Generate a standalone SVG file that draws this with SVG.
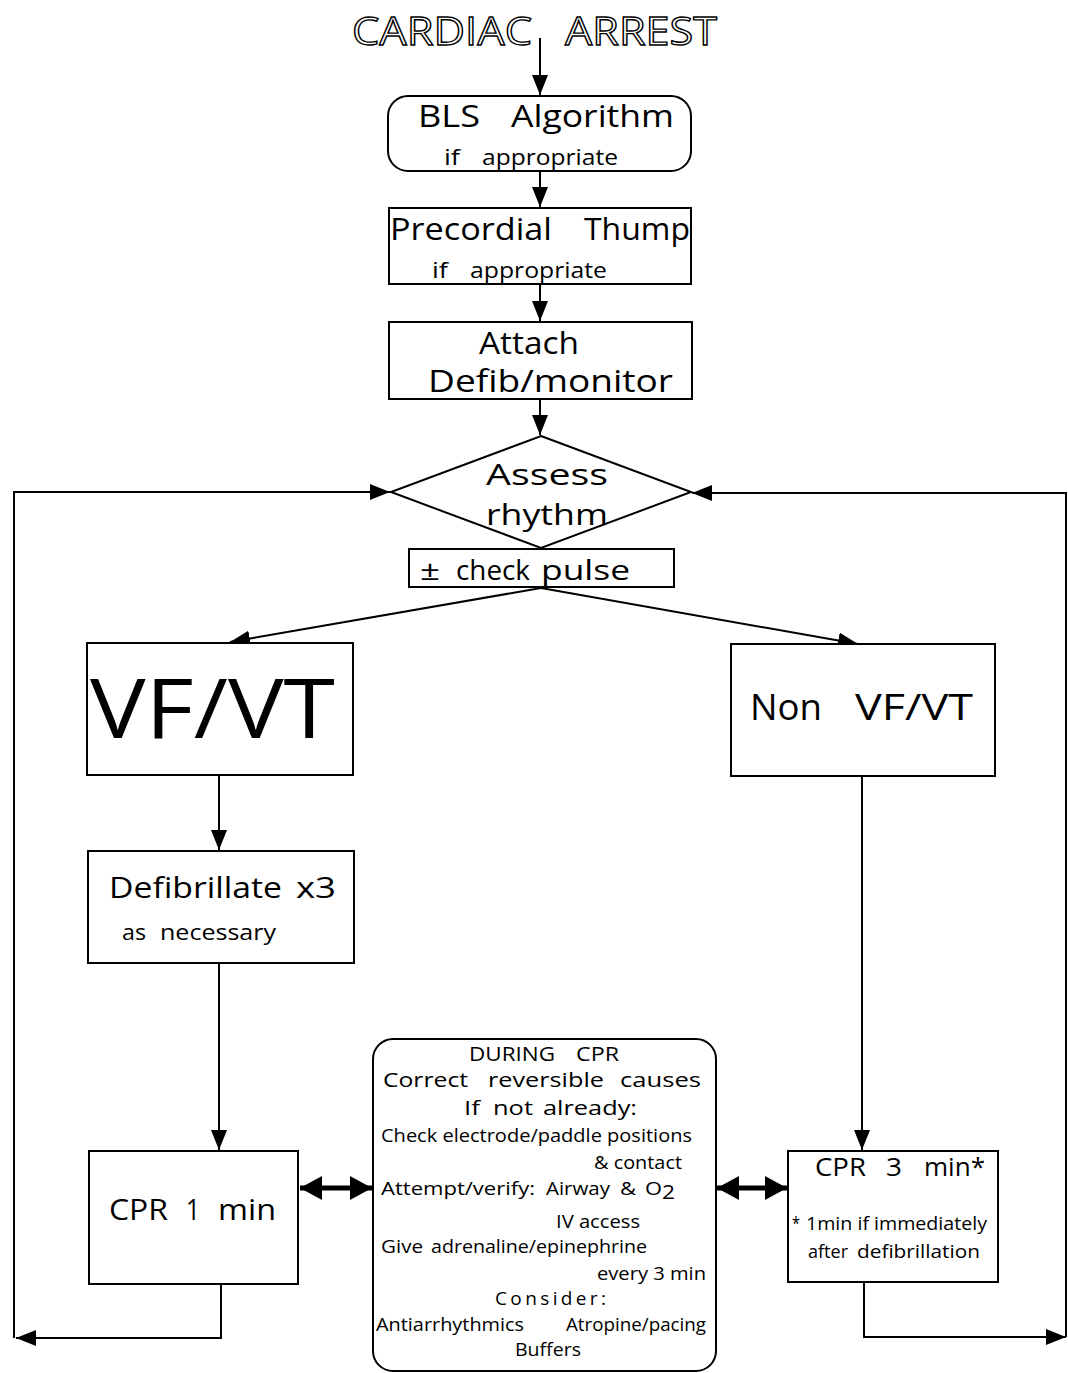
<svg xmlns="http://www.w3.org/2000/svg" width="1068" height="1373" viewBox="0 0 1068 1373">
<defs>
<marker id="ah" markerUnits="userSpaceOnUse" markerWidth="22" markerHeight="16" refX="20" refY="8" orient="auto">
<path d="M0,0 L20,8 L0,16 Z" fill="#000"/>
</marker>
<marker id="bh" markerUnits="userSpaceOnUse" markerWidth="24" markerHeight="24" refX="22" refY="12" orient="auto">
<path d="M0,0 L22,12 L0,24 Z" fill="#000"/>
</marker>
<marker id="bt" markerUnits="userSpaceOnUse" markerWidth="24" markerHeight="24" refX="0" refY="12" orient="auto">
<path d="M22,0 L0,12 L22,24 Z" fill="#000"/>
</marker>
</defs>
<style>
.box{fill:#fff;stroke:#000;stroke-width:2}
.ln{fill:none;stroke:#000;stroke-width:2}
.t{font-family:"Open Sans","Liberation Sans",sans-serif;fill:#000}
.title{font-family:"Open Sans","Liberation Sans",sans-serif;fill:#fff;stroke:#000;stroke-width:1.3;font-size:38px}
</style>
<rect width="1068" height="1373" fill="#fff"/>

<g id="connectors">
<line class="ln" x1="540" y1="38" x2="540" y2="95" marker-end="url(#ah)"/>
<line class="ln" x1="540" y1="171" x2="540" y2="207" marker-end="url(#ah)"/>
<line class="ln" x1="540" y1="284" x2="540" y2="321" marker-end="url(#ah)"/>
<line class="ln" x1="540" y1="399" x2="540" y2="435" marker-end="url(#ah)"/>
<line class="ln" x1="541" y1="588" x2="230" y2="642" marker-end="url(#ah)"/>
<line class="ln" x1="541" y1="588" x2="858" y2="644" marker-end="url(#ah)"/>
<line class="ln" x1="219" y1="775" x2="219" y2="850" marker-end="url(#ah)"/>
<line class="ln" x1="219" y1="963" x2="219" y2="1150" marker-end="url(#ah)"/>
<line class="ln" x1="862" y1="776" x2="862" y2="1150" marker-end="url(#ah)"/>
<polyline class="ln" points="221,1284 221,1338 16,1338" marker-end="url(#ah)"/>
<polyline class="ln" points="14,1338 14,492 390,492" marker-end="url(#ah)"/>
<polyline class="ln" points="864,1283 864,1337 1066,1337" marker-end="url(#ah)"/>
<polyline class="ln" points="1066,1337 1066,493 692,493" marker-end="url(#ah)"/>
<line x1="300" y1="1188" x2="372" y2="1188" stroke="#000" stroke-width="5" marker-start="url(#bt)" marker-end="url(#bh)"/>
<line x1="717" y1="1188" x2="787" y2="1188" stroke="#000" stroke-width="5" marker-start="url(#bt)" marker-end="url(#bh)"/>
</g>

<g id="title">
<text class="title" x="352" y="45" textLength="180" lengthAdjust="spacingAndGlyphs">CARDIAC</text>
<text class="title" x="565" y="45" textLength="152" lengthAdjust="spacingAndGlyphs">ARREST</text>
</g>

<g id="bls">
<rect class="box" x="388" y="96" width="303" height="75" rx="20"/>
<text class="t" y="127" font-size="31"><tspan x="418" textLength="62" lengthAdjust="spacingAndGlyphs">BLS</tspan> <tspan x="511" textLength="163" lengthAdjust="spacingAndGlyphs">Algorithm</tspan></text>
<text class="t" y="165" font-size="21"><tspan x="444" textLength="16" lengthAdjust="spacingAndGlyphs">if</tspan> <tspan x="482" textLength="136" lengthAdjust="spacingAndGlyphs">appropriate</tspan></text>
</g>

<g id="thump">
<rect class="box" x="389" y="208" width="302" height="76"/>
<text class="t" y="240" font-size="31"><tspan x="390" textLength="162" lengthAdjust="spacingAndGlyphs">Precordial</tspan> <tspan x="584" textLength="106" lengthAdjust="spacingAndGlyphs">Thump</tspan></text>
<text class="t" y="278" font-size="21"><tspan x="432" textLength="16" lengthAdjust="spacingAndGlyphs">if</tspan> <tspan x="470" textLength="137" lengthAdjust="spacingAndGlyphs">appropriate</tspan></text>
</g>

<g id="attach">
<rect class="box" x="389" y="322" width="303" height="77"/>
<text class="t" x="479" y="354" font-size="31" textLength="100" lengthAdjust="spacingAndGlyphs">Attach</text>
<text class="t" x="428" y="392" font-size="31" textLength="245" lengthAdjust="spacingAndGlyphs">Defib/monitor</text>
</g>

<g id="assess">
<polygon class="box" points="541,436 691,492 541,548 391,492"/>
<text class="t" x="486" y="485" font-size="30" textLength="122" lengthAdjust="spacingAndGlyphs">Assess</text>
<text class="t" x="486" y="525" font-size="30" textLength="122" lengthAdjust="spacingAndGlyphs">rhythm</text>
</g>

<g id="pulse">
<rect class="box" x="409" y="549" width="265" height="38"/>
<text class="t" y="580" font-size="28"><tspan x="420" textLength="20" lengthAdjust="spacingAndGlyphs">±</tspan> <tspan x="456" textLength="74" lengthAdjust="spacingAndGlyphs">check</tspan> <tspan x="541" textLength="89" lengthAdjust="spacingAndGlyphs">pulse</tspan></text>
</g>

<g id="vfvt">
<rect class="box" x="87" y="643" width="266" height="132"/>
<text class="t" x="90" y="738" font-size="82" textLength="245" lengthAdjust="spacingAndGlyphs">VF/VT</text>
</g>

<g id="nonvfvt">
<rect class="box" x="731" y="644" width="264" height="132"/>
<text class="t" y="720" font-size="36"><tspan x="750" textLength="72" lengthAdjust="spacingAndGlyphs">Non</tspan> <tspan x="855" textLength="118" lengthAdjust="spacingAndGlyphs">VF/VT</tspan></text>
</g>

<g id="defib">
<rect class="box" x="88" y="851" width="266" height="112"/>
<text class="t" y="898" font-size="29"><tspan x="109" textLength="173" lengthAdjust="spacingAndGlyphs">Defibrillate</tspan> <tspan x="296" textLength="40" lengthAdjust="spacingAndGlyphs">x3</tspan></text>
<text class="t" y="940" font-size="21"><tspan x="122" textLength="24" lengthAdjust="spacingAndGlyphs">as</tspan> <tspan x="160" textLength="116" lengthAdjust="spacingAndGlyphs">necessary</tspan></text>
</g>

<g id="cpr1">
<rect class="box" x="89" y="1151" width="209" height="133"/>
<text class="t" y="1220" font-size="30"><tspan x="109" textLength="59" lengthAdjust="spacingAndGlyphs">CPR</tspan> <tspan x="186" textLength="14" lengthAdjust="spacingAndGlyphs">1</tspan> <tspan x="218" textLength="58" lengthAdjust="spacingAndGlyphs">min</tspan></text>
</g>

<g id="cpr3">
<rect class="box" x="788" y="1151" width="210" height="131"/>
<text class="t" y="1176" font-size="26"><tspan x="815" textLength="51" lengthAdjust="spacingAndGlyphs">CPR</tspan> <tspan x="886" textLength="16" lengthAdjust="spacingAndGlyphs">3</tspan> <tspan x="924" textLength="61" lengthAdjust="spacingAndGlyphs">min*</tspan></text>
<text class="t" y="1230" font-size="19"><tspan x="792" textLength="8" lengthAdjust="spacingAndGlyphs">*</tspan> <tspan x="806" textLength="181" lengthAdjust="spacingAndGlyphs">1min if immediately</tspan></text>
<text class="t" y="1258" font-size="19"><tspan x="808" textLength="40" lengthAdjust="spacingAndGlyphs">after</tspan> <tspan x="857" textLength="123" lengthAdjust="spacingAndGlyphs">defibrillation</tspan></text>
</g>

<g id="during">
<rect class="box" x="373" y="1039" width="343" height="332" rx="20"/>
<text class="t" y="1061" font-size="20"><tspan x="469" textLength="86" lengthAdjust="spacingAndGlyphs">DURING</tspan> <tspan x="576" textLength="43" lengthAdjust="spacingAndGlyphs">CPR</tspan></text>
<text class="t" y="1087" font-size="20"><tspan x="383" textLength="85" lengthAdjust="spacingAndGlyphs">Correct</tspan> <tspan x="488" textLength="116" lengthAdjust="spacingAndGlyphs">reversible</tspan> <tspan x="620" textLength="81" lengthAdjust="spacingAndGlyphs">causes</tspan></text>
<text class="t" y="1115" font-size="20"><tspan x="464" textLength="16" lengthAdjust="spacingAndGlyphs">If</tspan> <tspan x="493" textLength="40" lengthAdjust="spacingAndGlyphs">not</tspan> <tspan x="543" textLength="94" lengthAdjust="spacingAndGlyphs">already:</tspan></text>
<text class="t" x="381" y="1142" font-size="18" textLength="311" lengthAdjust="spacingAndGlyphs">Check electrode/paddle positions</text>
<text class="t" x="594" y="1169" font-size="18" textLength="88" lengthAdjust="spacingAndGlyphs">&amp; contact</text>
<text class="t" y="1195" font-size="19"><tspan x="381" textLength="154" lengthAdjust="spacingAndGlyphs">Attempt/verify:</tspan> <tspan x="546" textLength="64" lengthAdjust="spacingAndGlyphs">Airway</tspan> <tspan x="620" textLength="16" lengthAdjust="spacingAndGlyphs">&amp;</tspan> <tspan x="645" textLength="17" lengthAdjust="spacingAndGlyphs">O</tspan><tspan x="662" y="1199" font-size="20" textLength="13" lengthAdjust="spacingAndGlyphs">2</tspan></text>
<text class="t" x="556" y="1228" font-size="18" textLength="84" lengthAdjust="spacingAndGlyphs">IV access</text>
<text class="t" y="1253" font-size="18"><tspan x="381" textLength="42" lengthAdjust="spacingAndGlyphs">Give</tspan> <tspan x="431" textLength="216" lengthAdjust="spacingAndGlyphs">adrenaline/epinephrine</tspan></text>
<text class="t" x="597" y="1280" font-size="18" textLength="109" lengthAdjust="spacingAndGlyphs">every 3 min</text>
<text class="t" x="495" y="1305" font-size="19" textLength="111" lengthAdjust="spacing">Consider:</text>
<text class="t" y="1331" font-size="18"><tspan x="376" textLength="148" lengthAdjust="spacingAndGlyphs">Antiarrhythmics</tspan> <tspan x="566" textLength="140" lengthAdjust="spacingAndGlyphs">Atropine/pacing</tspan></text>
<text class="t" x="515" y="1356" font-size="18" textLength="66" lengthAdjust="spacingAndGlyphs">Buffers</text>
</g>
</svg>
